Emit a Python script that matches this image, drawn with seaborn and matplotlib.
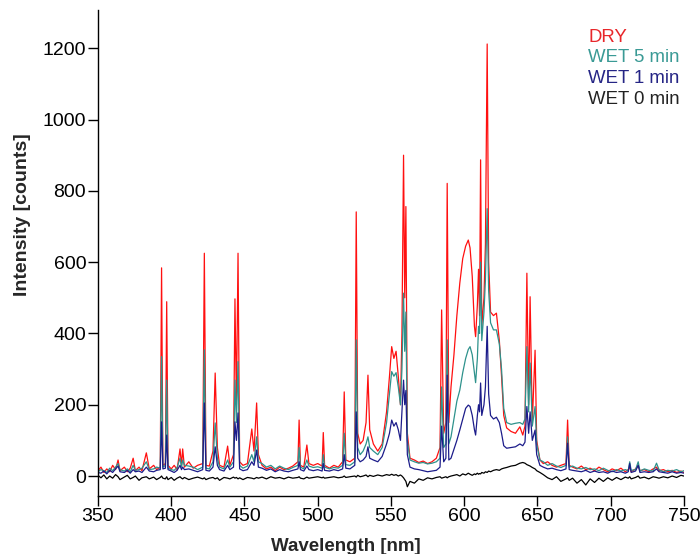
import numpy as np
import pandas as pd
import matplotlib
matplotlib.use("Agg")
import matplotlib.pyplot as plt
import seaborn as sns

# ---- data ----
wavelength = [
    350, 352, 354, 356, 358, 360, 362, 363.7, 365, 368, 370, 372, 374, 375.5, 378, 380,
    383, 385, 388, 390, 392.5, 393.4, 394.3, 396, 396.9, 397.8, 400, 402, 404, 406, 407,
    407.8, 409, 412, 415, 418, 421.5, 422.6, 423.7, 426, 428.5, 430, 431.5, 433, 436,
    438.5, 440, 442.5, 443.5, 444.5, 445.6, 446.7, 449, 452, 455, 456.5, 458.3, 459.5,
    462, 465, 468, 471, 474, 477, 480, 483, 486.5, 487.3, 488.2, 490.5, 492.6, 494, 497,
    500, 503, 503.8, 504.7, 508, 511, 514, 517, 518.1, 519.2, 522, 525.3, 526.3, 527.3,
    529, 531, 533, 534.3, 535.5, 538, 541, 544, 547, 549, 550.5, 552, 553.5, 555, 556.5,
    557.5, 558.6, 559.4, 560.2, 561.2, 563, 566, 569, 572, 575, 578, 581, 583.5, 584.6,
    586, 587.5, 588.4, 589.5, 591, 593, 595, 597, 599, 601, 602.8, 604, 605.5, 607,
    607.8, 609, 609.8, 610.5, 611.2, 612, 613.5, 614.5, 615.7, 616.7, 618, 620, 622, 624,
    625.5, 627, 629, 632, 635, 638, 640, 641.5, 642.8, 644.0, 645.0, 646.5, 648.4,
    649.5, 651.7, 654, 657, 660, 663, 666, 669.5, 670.6, 671.7, 674, 677, 680, 683, 686,
    689, 692, 695, 698, 701, 704, 707, 710, 712, 713, 714, 717, 718.8, 720, 723, 726,
    729, 731.3, 733, 736, 739, 742, 745, 748, 750,
]

dry = [
    15, 25, 10, 20, 12, 30, 18, 45, 15, 25, 12, 22, 50, 15, 25, 15,
    65, 20, 30, 18, 25, 584, 30, 35, 489, 30, 20, 30, 18, 76, 30,
    76, 25, 40, 22, 30, 35, 625, 30, 28, 70, 289, 80, 30, 25,
    84, 30, 60, 497, 200, 625, 40, 30, 35, 132, 70, 205, 60,
    30, 20, 25, 15, 25, 18, 22, 28, 40, 157, 30, 25, 87, 35, 30,
    35, 28, 122, 30, 22, 30, 25, 40, 236, 45, 40, 50, 741, 120,
    90, 100, 150, 283, 130, 90, 70, 90, 180, 280, 363, 330, 350, 280, 200,
    400, 900, 500, 756, 120, 50, 45, 38, 42, 35, 40, 50, 80, 466,
    120, 150, 821, 150, 250, 340, 450, 541, 610, 645, 662, 640, 560, 420,
    391, 480, 580, 450, 887, 420, 500, 650, 1212, 600, 460, 450, 457, 380,
    280, 170, 135, 125, 120, 138, 115, 140, 569, 200, 503, 150, 353,
    100, 45, 35, 40, 30, 25, 30, 35, 157, 30, 25, 20, 28, 18, 22,
    15, 25, 18, 12, 20, 15, 22, 12, 18, 25, 12, 20, 30, 15, 18, 12,
    20, 25, 15, 18, 12, 16, 10, 14, 10,
]

wet_5 = [
    12, 18, 15, 10, 22, 15, 25, 35, 18, 14, 20, 12, 30, 16, 18, 22,
    40, 18, 20, 25, 22, 335, 25, 30, 269, 22, 18, 16, 24, 50, 25,
    45, 30, 28, 25, 18, 25, 354, 22, 20, 40, 149, 50, 25, 20,
    45, 25, 40, 269, 150, 321, 30, 22, 28, 60, 40, 110, 40,
    35, 25, 30, 20, 28, 22, 18, 24, 30, 80, 25, 20, 45, 28, 24,
    26, 22, 60, 25, 20, 24, 22, 30, 120, 32, 30, 40, 382, 80,
    60, 70, 90, 110, 80, 70, 60, 80, 150, 230, 293, 280, 290, 250, 200,
    300, 513, 350, 460, 100, 45, 40, 36, 38, 34, 36, 40, 50, 250,
    80, 90, 382, 90, 110, 160, 210, 241, 290, 330, 355, 363, 340, 290,
    262, 330, 420, 400, 600, 380, 460, 550, 750, 520, 430, 410, 410, 370,
    300, 190, 150, 145, 148, 150, 145, 160, 363, 180, 317, 140, 195,
    90, 45, 40, 30, 35, 28, 24, 30, 110, 25, 28, 22, 20, 24, 18,
    20, 15, 22, 16, 12, 18, 14, 18, 15, 40, 16, 18, 40, 14, 20, 16,
    14, 36, 18, 12, 16, 14, 18, 12, 15,
]

wet_1 = [
    10, 8, 14, 6, 16, 10, 20, 28, 12, 10, 16, 8, 18, 12, 14, 10,
    25, 14, 12, 16, 18, 152, 20, 22, 115, 18, 14, 10, 16, 30, 18,
    25, 18, 20, 16, 12, 18, 205, 16, 14, 25, 82, 30, 18, 14,
    30, 18, 25, 152, 100, 177, 20, 15, 18, 40, 30, 73, 25,
    22, 16, 20, 12, 18, 14, 12, 16, 20, 40, 18, 14, 28, 18, 15,
    18, 14, 35, 16, 14, 18, 15, 20, 60, 22, 20, 30, 180, 50,
    40, 45, 55, 82, 50, 45, 40, 55, 90, 120, 157, 140, 150, 130, 100,
    180, 269, 200, 240, 60, 25, 20, 18, 15, 12, 14, 16, 25, 140,
    40, 50, 283, 45, 50, 75, 100, 129, 160, 190, 199, 195, 170, 130,
    115, 170, 200, 180, 261, 170, 200, 250, 420, 230, 170, 160, 165, 150,
    120, 85, 78, 80, 82, 90, 85, 95, 195, 120, 180, 100, 129,
    60, 30, 25, 20, 22, 18, 15, 20, 92, 18, 16, 14, 12, 16, 10,
    14, 10, 12, 8, 14, 10, 12, 8, 12, 35, 10, 14, 30, 10, 12, 10,
    12, 20, 12, 10, 8, 12, 8, 10, 8,
]

wet_0 = [
    2, -5, 3, -8, 0, -6, 4, -2, -10, -3, 2, -8, -4, 0, -12, -5,
    -2, -8, -3, -10, -4, 0, -6, -8, -2, -10, -4, -12, -6, -2, -6,
    -8, -4, -10, -6, -3, -8, -5, -10, -6, -4, -8, -5, -12, -4,
    -6, -8, -3, -6, -4, -8, -5, -10, -4, -6, -8, -4, -6,
    -3, -8, -2, -6, -4, -8, -3, -6, -4, -2, -6, -8, -3, -6, -4,
    -2, -5, -3, -6, -4, -2, -5, -3, 0, -4, -2, 0, -3, 2,
    -2, 0, 3, -2, 2, -1, 3, 0, 4, 2, 5, 2, 4, 0, 3,
    0, -5, -10, -15, -30, -15, -20, -8, -12, -5, -8, -4, -2, -6,
    -4, -2, -5, -2, 0, 2, 4, 0, 6, 3, 8, 5, 2, 6,
    4, 8, 5, 7, 6, 10, 8, 12, 10, 14, 12, 16, 18, 16,
    20, 22, 24, 28, 30, 36, 38, 36, 32, 30, 28, 24, 20,
    15, 10, 4, -5, -10, -2, -15, -8, -5, -12, -6, -20, -10, -25, -8,
    -18, -6, -15, -5, -12, -4, -10, -3, -6, -2, -8, -4, 0, -6, -3, -8,
    -2, -4, -6, -2, -5, 0, -4, 2, 0,
]

series_names = ["DRY", "WET 5 min", "WET 1 min", "WET 0 min"]
series_values = [dry, wet_5, wet_1, wet_0]
line_colors = ["#ff1010", "#2e928c", "#1c1c8a", "#000000"]
legend_colors = ["#e8262a", "#3a9a95", "#252585", "#222222"]
x_ticks = [350, 400, 450, 500, 550, 600, 650, 700, 750]
y_ticks = [0, 200, 400, 600, 800, 1000, 1200]

frames = []
for name, vals in zip(series_names, series_values):
    frames.append(pd.DataFrame({"Wavelength": wavelength, "Intensity": vals, "Sample": name}))
df = pd.concat(frames, ignore_index=True)

sns.set_theme(style="ticks")
plt.rcParams["font.family"] = ["Liberation Sans", "DejaVu Sans"]

fig = plt.figure(figsize=(7.0, 5.54), dpi=100)
ax = fig.add_axes([0.14, 0.1047, 0.837, 0.877])

sns.lineplot(data=df, x="Wavelength", y="Intensity", hue="Sample",
             hue_order=series_names, palette=dict(zip(series_names, line_colors)),
             estimator=None, sort=False, linewidth=0.9, ax=ax, legend=True)

ax.set_xlim(350, 750)
ax.set_ylim(-56, 1307)
ax.set_xticks(x_ticks)
ax.set_yticks(y_ticks)
ax.tick_params(axis="both", labelsize=14, length=7, width=1, color="black",
               labelcolor="black", direction="out", pad=1.5)
for s in ["top", "right"]:
    ax.spines[s].set_visible(False)
for s in ["left", "bottom"]:
    ax.spines[s].set_color("black")
    ax.spines[s].set_linewidth(1)

ax.set_xlabel("Wavelength [nm]", fontsize=13.5, fontweight="bold")
ax.set_ylabel("Intensity [counts]", fontsize=14, fontweight="bold")
ax.xaxis.set_label_coords(0.423, -0.086)
ax.yaxis.set_label_coords(-0.114, 0.58)

handles, labels = ax.get_legend_handles_labels()
leg = ax.legend(handles, labels, loc="upper left", bbox_to_anchor=(0.837, 0.962),
                frameon=False, handlelength=0, handletextpad=0, borderpad=0,
                borderaxespad=0, labelspacing=0.2, fontsize=13.4,
                labelcolor=legend_colors)
for h in leg.legend_handles:
    h.set_visible(False)

fig.savefig("out.png", dpi=100)
